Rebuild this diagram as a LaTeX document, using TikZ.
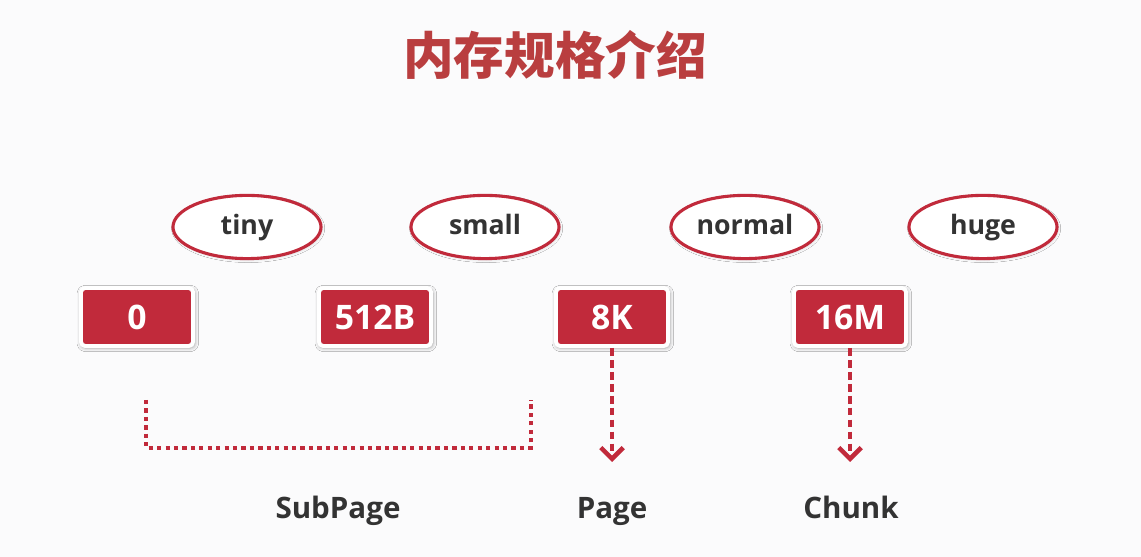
\documentclass[tikz,border=0pt]{standalone}
\usepackage{fontspec}
\setmainfont{Open Sans}
\newfontfamily\cjk{Noto Sans CJK SC}
\usetikzlibrary{shapes.geometric,shadows.blur,arrows.meta}
\definecolor{memred}{HTML}{C12A3B}
\definecolor{titlered}{HTML}{B93E3F}
\definecolor{txtgray}{HTML}{333333}
\definecolor{bggray}{HTML}{FBFBFC}
\tikzset{
  sizebox/.style={rectangle,rounded corners=3pt,fill=memred,draw=white,line width=2.8pt,
    minimum width=2.8cm,minimum height=1.45cm,text=white,
    font=\fontsize{24}{28}\selectfont\bfseries,text height=17.3pt,text depth=0pt,
    blur shadow={shadow xshift=0.6pt,shadow yshift=-1pt,shadow blur radius=2.5pt,
      shadow blur extra rounding=1.4pt,shadow opacity=35,shadow scale=1.02}},
  sizeclass/.style={ellipse,fill=white,draw=memred,line width=2.2pt,
    minimum width=3.7cm,minimum height=1.58cm,inner sep=0pt,text=txtgray,
    font=\fontsize{19}{23}\selectfont\bfseries,text height=13.7pt,text depth=3.4pt,
    blur shadow={shadow xshift=0.8pt,shadow yshift=-1pt,shadow blur radius=1.8pt,shadow opacity=15}},
  kindlabel/.style={text=txtgray,font=\fontsize{21}{25}\selectfont\bfseries,anchor=base},
  pointer/.style={draw=memred,line width=3pt,dash pattern=on 5.5pt off 3pt,
    -{Straight Barb[length=8pt,width=16pt,line width=3.2pt]}},
}
\begin{document}
\begin{tikzpicture}[x=0.025cm,y=0.025cm]
	\fill[bggray] (0,0) rectangle (1141,557);
	\useasboundingbox (0,0) rectangle (1141,557);
	%TITLE
	\node[text=titlered,font=\cjk\fontsize{36}{40}\selectfont\bfseries] (title) at (555,502) {内存规格介绍};
	%CLASSES
	\node[sizeclass] (tiny)   at (247,330) {tiny};
	\node[sizeclass] (small)  at (485,330) {small};
	\node[sizeclass] (normal) at (745,330) {normal};
	\node[sizeclass] (huge)   at (983,330) {huge};
	%SIZES
	\node[sizebox] (b0)   at (137,240) {0};
	\node[sizebox] (b512) at (375,240) {512B};
	\node[sizebox] (b8k)  at (612,240) {8K};
	\node[sizebox] (b16m) at (850,240) {16M};
	%KINDS
	\node[kindlabel] (lsub)   at (338,38) {SubPage};
	\node[kindlabel] (lpage)  at (612,38) {Page};
	\node[kindlabel] (lchunk) at (851,38) {Chunk};
	\coordinate (pg) at (612,95);
	\coordinate (ck) at (850,95);
	\draw[pointer] (b8k.south) -- (pg);
	\draw[pointer] (b16m.south) -- (ck);
	\draw[memred,line width=3pt,dash pattern=on 3pt off 3pt]
	      (146,157) -- (146,109) -- (531,109) -- (531,157);
\end{tikzpicture}
\end{document}
